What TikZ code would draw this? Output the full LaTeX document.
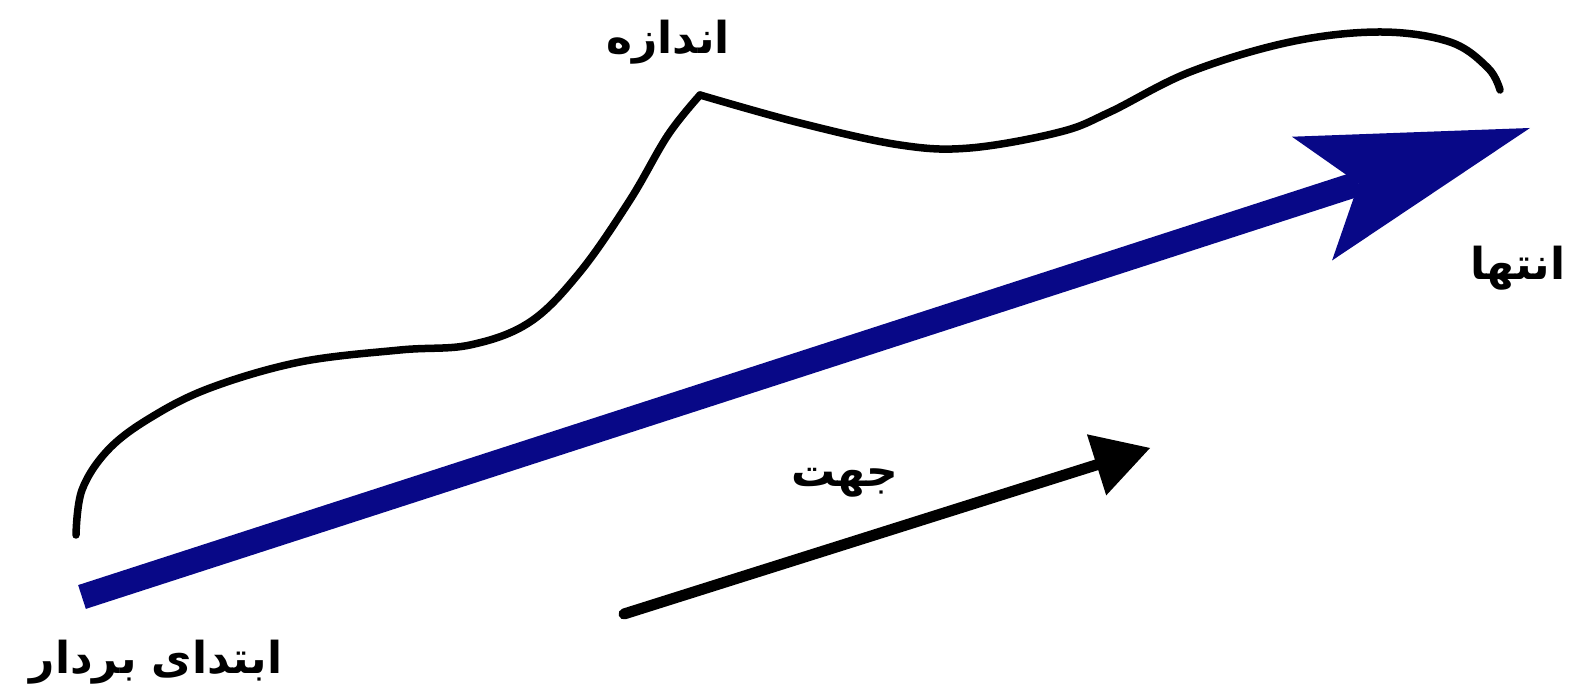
\documentclass[tikz,border=0pt]{standalone}
\usepackage{fontspec}
\newfontfamily\persianfont[Script=Arabic]{DejaVu Sans}
\TeXXeTstate=1
\usetikzlibrary{arrows.meta}
\definecolor{vectorblue}{RGB}{8,8,135}
\tikzset{
  vectorline/.style={draw=vectorblue,line width=0.25cm,
    -{Stealth[length=2.29cm,width=1.3cm,inset=0.49cm,line width=0pt]}},
  dirline/.style={draw=black,line width=0.11cm,line cap=round,
    -{Triangle[length=0.56cm,width=0.64cm,line width=0pt]}},
  sizeline/.style={draw=black,line width=0.075cm,line cap=round,line join=round},
  label/.style={font=\persianfont\bfseries\fontsize{12.5}{15}\selectfont,inner sep=0pt}
}
\begin{document}
\begin{tikzpicture}[x=0.01cm,y=-0.01cm]
  \useasboundingbox (0,0) rectangle (1572,698);
  % the vector
  \coordinate (vstart) at (82,597);
  \coordinate (vend) at (1530,128);
  \draw[vectorline] (vstart) -- (vend);
  % direction
  \coordinate (dstart) at (624,614);
  \coordinate (dend) at (1150,448);
  \draw[dirline] (dstart) -- (dend);
  % size
  \coordinate (peak) at (700,95);
  \draw[sizeline] plot[smooth,tension=0.6] coordinates {
    (76,535) (82,490) (108,450) (150,418) (210,388) (300,362) (400,350) (470,345)
    (530,322) (580,272) (630,200) (668,135) (peak)};
  \draw[sizeline] plot[smooth,tension=0.6] coordinates {
    (peak) (800,123) (900,145) (970,148) (1060,132) (1110,112) (1190,72)
    (1290,42) (1380,32) (1450,42) (1488,68) (1500,90)};
  % labels
  \node[label] (sizelbl) at (668,42) {\beginR اندازه\endR};
  \node[label] (endlbl) at (1518,268) {\beginR انتها\endR};
  \node[label] (dirlbl) at (845,483) {\beginR جهت\endR};
  \node[label] (startlbl) at (156,662) {\beginR ابتدای بردار\endR};
\end{tikzpicture}
\end{document}
